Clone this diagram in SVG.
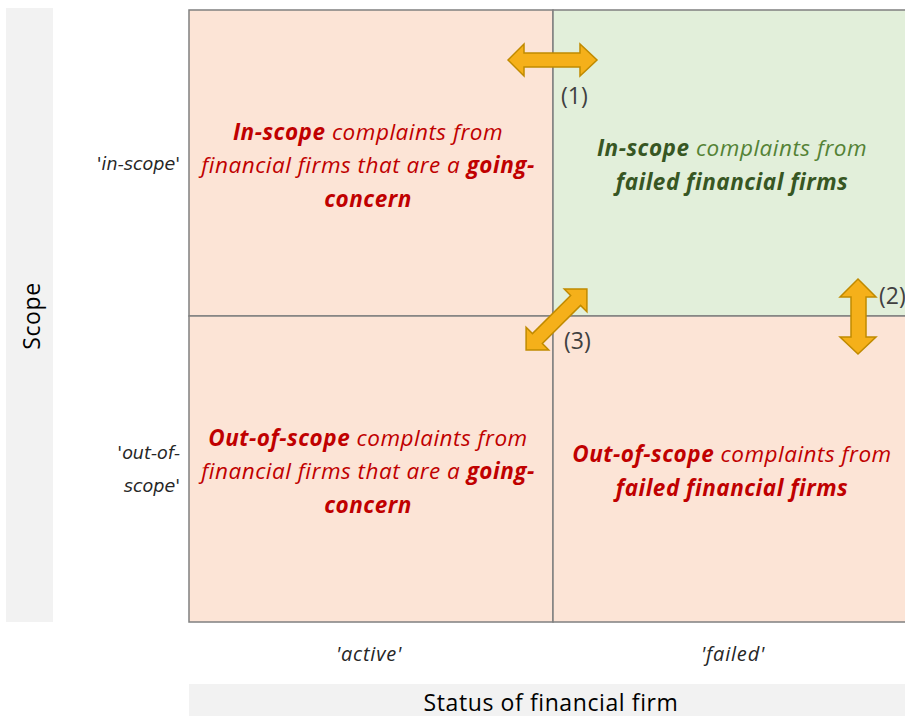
<svg xmlns="http://www.w3.org/2000/svg" width="905" height="716" viewBox="0 0 905 716">
  <style>
    .cell { stroke: #808080; stroke-width: 1.5; }
    .peach { fill: #fce4d6; }
    .green { fill: #e2efda; }
    .band { fill: #f2f2f2; }
    .txt { font-family: "Open Sans", "Noto Sans", sans-serif; }
    .body { font-size: 22.5px; font-style: italic; text-anchor: middle; letter-spacing: 0.5px; }
    .red { fill: #c00000; }
    .dgreen { fill: #375623; }
    .lgreen { fill: #548235; }
    .b { font-weight: bold; }
    .axis { font-style: italic; fill: #262626; }
    .side { font-family: "DejaVu Sans", sans-serif; font-size: 17.5px; }
    .foot { font-size: 20px; letter-spacing: 0.8px; }
    .title { font-size: 23px; fill: #000; letter-spacing: 0.6px; }
    .num { font-size: 23px; fill: #404040; }
    .arrow { fill: #f5b01a; stroke: #c08a00; stroke-width: 1.5; stroke-linejoin: miter; }
  </style>

  <!-- axis bands -->
  <g id="scope-band">
    <rect class="band" x="6" y="8" width="47" height="614"/>
    <text class="txt title" transform="translate(40 316) rotate(-90)" text-anchor="middle">Scope</text>
  </g>
  <g id="status-band">
    <rect class="band" x="189" y="684" width="716" height="32"/>
    <text class="txt title" x="551" y="711" text-anchor="middle">Status of financial firm</text>
  </g>

  <!-- axis labels -->
  <g id="axis-labels" class="txt axis">
    <text class="side" x="180" y="170" text-anchor="end">'in-scope'</text>
    <text class="side" x="180" y="459" text-anchor="end">'out-of-</text>
    <text class="side" x="180" y="492" text-anchor="end">scope'</text>
    <text class="foot" x="369" y="661" text-anchor="middle">'active'</text>
    <text class="foot" x="733" y="661" text-anchor="middle">'failed'</text>
  </g>

  <!-- quadrants -->
  <g id="q-inscope-active">
    <rect class="cell peach" x="189" y="10" width="364" height="306"/>
    <text class="txt body red" x="368" y="140"><tspan class="b">In-scope</tspan>  complaints from</text>
    <text class="txt body red" x="368" y="173">financial firms that are a  <tspan class="b">going-</tspan></text>
    <text class="txt body red b" x="368" y="207">concern</text>
  </g>
  <g id="q-inscope-failed">
    <rect class="cell green" x="553" y="10" width="360" height="306"/>
    <text class="txt body lgreen" x="732" y="156"><tspan class="b dgreen">In-scope</tspan>  complaints from</text>
    <text class="txt body dgreen b" x="732" y="190">failed financial firms</text>
  </g>
  <g id="q-outscope-active">
    <rect class="cell peach" x="189" y="316" width="364" height="306"/>
    <text class="txt body red" x="368" y="446"><tspan class="b">Out-of-scope</tspan>  complaints from</text>
    <text class="txt body red" x="368" y="479">financial firms that are a  <tspan class="b">going-</tspan></text>
    <text class="txt body red b" x="368" y="513">concern</text>
  </g>
  <g id="q-outscope-failed">
    <rect class="cell peach" x="553" y="316" width="360" height="306"/>
    <text class="txt body red" x="732" y="462"><tspan class="b">Out-of-scope</tspan>  complaints from</text>
    <text class="txt body red b" x="732" y="496">failed financial firms</text>
  </g>

  <!-- transition arrows -->
  <g id="connectors">
    <!-- (1) active <-> failed, in scope -->
    <polygon class="arrow" points="508,60 524,44 524,53 580,53 580,44 597,60 580,76 580,67 524,67 524,76"/>
    <!-- (2) in-scope <-> out-of-scope, failed -->
    <polygon class="arrow" points="858,279 876,297 866,297 866,337 876,337 858,354 840,337 851,337 851,297 840,297"/>
    <!-- (3) diagonal between quadrants -->
    <g transform="translate(556.5 319.5) rotate(-45)">
      <polygon class="arrow" points="-43,0 -27,-16 -27,-7 27,-7 27,-16 43,0 27,16 27,7 -27,7 -27,16"/>
    </g>
  </g>

  <g id="labels" class="txt num">
    <text x="561" y="104">(1)</text>
    <text x="879" y="304">(2)</text>
    <text x="564" y="349">(3)</text>
  </g>
</svg>
